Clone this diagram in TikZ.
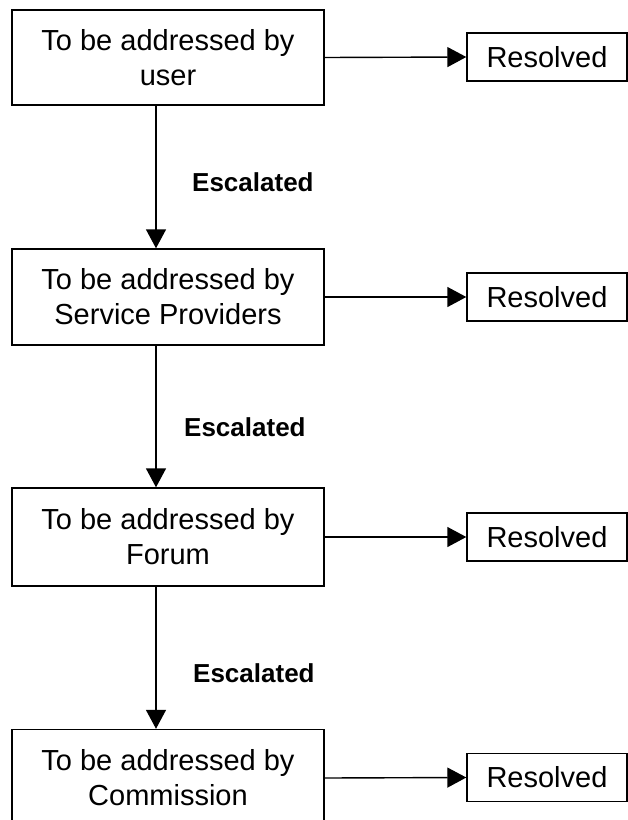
\documentclass[tikz,border=0pt]{standalone}
\usepackage{fontspec}
\setmainfont{Liberation Sans}
\usetikzlibrary{arrows.meta}
\begin{document}
\begin{tikzpicture}[x=1pt,y=-1pt,
  stagebox/.style={draw,line width=1.4pt,rectangle,minimum width=312pt,inner sep=0pt,
    align=center,font=\fontsize{29}{35}\selectfont},
  resbox/.style={draw,line width=1.4pt,rectangle,minimum width=160pt,minimum height=48pt,
    inner sep=0pt,font=\fontsize{29}{35}\selectfont},
  esclabel/.style={anchor=west,inner sep=0pt,font=\fontsize{26}{30}\selectfont\bfseries},
  arr/.style={line width=1.4pt,-{Triangle[length=19pt,width=20pt]}}]
\useasboundingbox (0,0) rectangle (628,820);
\clip (0,0) rectangle (628,820);
\fill[white] (0,0) rectangle (628,820);
% stage boxes
\node[stagebox,minimum height=95pt] (b1) at (168,57.5) {To be addressed by\\user};
\node[stagebox,minimum height=96pt] (b2) at (168,297) {To be addressed by\\Service Providers};
\node[stagebox,minimum height=98pt] (b3) at (168,537) {To be addressed by\\Forum};
\node[stagebox,minimum height=97pt] (b4) at (168,778) {To be addressed by\\Commission};
% resolved boxes
\node[resbox] (r1) at (547,57) {Resolved};
\node[resbox] (r2) at (547,297) {Resolved};
\node[resbox] (r3) at (547,537) {Resolved};
\node[resbox] (r4) at (547,777.5) {Resolved};
% column of the escalation arrows
\coordinate (col) at (156,0);
% horizontal arrows
\draw[arr] (b1.east) -- (r1.west);
\draw[arr] (b2.east) -- (r2.west);
\draw[arr] (b3.east) -- (r3.west);
\draw[arr] (b4.east) -- (r4.west);
% escalation arrows
\draw[arr] (b1.south -| col) -- (b2.north -| col);
\draw[arr] (b2.south -| col) -- (b3.north -| col);
\draw[arr] (b3.south -| col) -- (b4.north -| col);
% labels
\node[esclabel] (e1) at (192,182) {Escalated};
\node[esclabel] (e2) at (184,427) {Escalated};
\node[esclabel] (e3) at (193,673) {Escalated};
\end{tikzpicture}
\end{document}
